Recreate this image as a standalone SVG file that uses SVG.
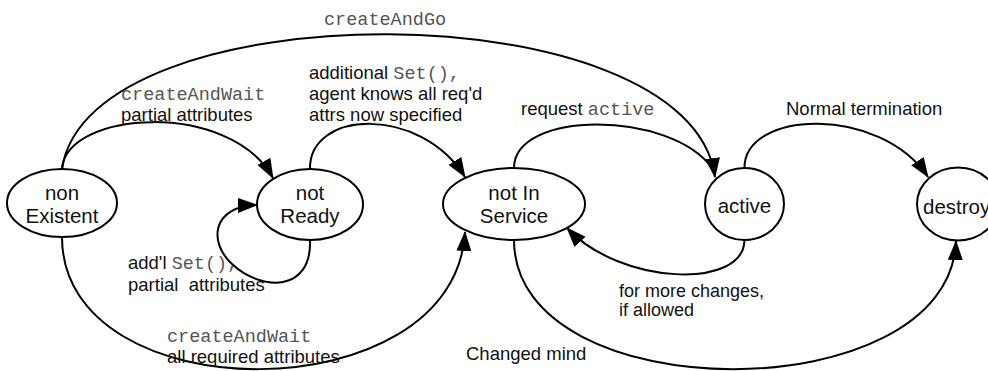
<svg xmlns="http://www.w3.org/2000/svg" width="988" height="371" viewBox="0 0 988 371">
<defs>
<marker id="arr" markerUnits="userSpaceOnUse" viewBox="0 0 20 15" refX="19" refY="7.5" markerWidth="20" markerHeight="15" orient="auto">
<path d="M0,0 L20,7.5 L0,15 z" fill="#000"/>
</marker>
<style>
.node{fill:#fff;stroke:#000;stroke-width:2}
.nt{font-family:"Liberation Sans",Arial,sans-serif;font-size:20.5px;fill:#111;text-anchor:middle}
.edge{fill:none;stroke:#000;stroke-width:2}
.lbl{font-family:"Liberation Sans",Arial,sans-serif;font-size:18.5px;fill:#111}
.lbs{font-family:"Liberation Sans",Arial,sans-serif;font-size:18px;fill:#111}
.mono{font-family:"Liberation Mono","Courier New",monospace;font-size:18.5px;fill:#555}
</style>
</defs>
<rect width="988" height="371" fill="#fff"/>
<g id="connectors">
<path class="edge" d="M62,169 C88,-12 690,-12 715,177" marker-end="url(#arr)"/>
<path class="edge" d="M62,169 C66,110 230,100 273,178" marker-end="url(#arr)"/>
<path class="edge" d="M310,169 C309,110 420,105 465,177" marker-end="url(#arr)"/>
<path class="edge" d="M514,168 C514,110 670,110 712,168"/>
<path class="edge" d="M744.5,168 C744,110 880,105 928,177" marker-end="url(#arr)"/>
<path class="edge" d="M310,240 C312,292 262,292 232,264 C208,242 212,206 257,205" marker-end="url(#arr)"/>
<path class="edge" d="M62,237 C62,414 455,414 465,232" marker-end="url(#arr)"/>
<path class="edge" d="M744.5,240 C744,290 620,285 567,228" marker-end="url(#arr)"/>
<path class="edge" d="M514,240 C514,412 950,412 956,241" marker-end="url(#arr)"/>
</g>
<g id="labels">
<text class="mono" x="324" y="25">createAndGo</text>
<text class="mono" x="121" y="100">createAndWait</text>
<text class="lbl" x="121" y="121">partial attributes</text>
<text class="lbl" x="309" y="79">additional <tspan class="mono">Set(),</tspan></text>
<text class="lbl" x="309" y="100">agent knows all req'd</text>
<text class="lbl" x="309" y="121">attrs now specified</text>
<text class="lbl" x="521" y="115">request <tspan class="mono">active</tspan></text>
<text class="lbl" x="786" y="115">Normal termination</text>
<text class="lbl" x="128" y="269">add'l <tspan class="mono">Set(),</tspan></text>
<text class="lbl" x="128" y="291">partial &#160;attributes</text>
<text class="mono" x="167" y="342">createAndWait</text>
<text class="lbl" x="167" y="363">all required attributes</text>
<text class="lbl" x="466" y="360">Changed mind</text>
<text class="lbs" x="619" y="296.5">for more changes,</text>
<text class="lbs" x="619" y="315.5">if allowed</text>
</g>
<g id="nonExistent">
<ellipse class="node" cx="62" cy="203" rx="55" ry="34"/>
<text class="nt" x="62" y="200">non</text>
<text class="nt" x="62" y="223">Existent</text>
</g>
<g id="notReady">
<ellipse class="node" cx="310" cy="204.5" rx="53" ry="35.5"/>
<text class="nt" x="310" y="200">not</text>
<text class="nt" x="310" y="223">Ready</text>
</g>
<g id="notInService">
<ellipse class="node" cx="514" cy="204" rx="71" ry="36"/>
<text class="nt" x="514" y="200">not In</text>
<text class="nt" x="514" y="223">Service</text>
</g>
<g id="active">
<ellipse class="node" cx="744.5" cy="204" rx="39.5" ry="36"/>
<text class="nt" x="744.5" y="213">active</text>
</g>
<g id="destroy">
<ellipse class="node" cx="958" cy="204" rx="41" ry="36.5"/>
<text class="nt" x="923" y="214" style="text-anchor:start">destroy</text>
</g>
</svg>
